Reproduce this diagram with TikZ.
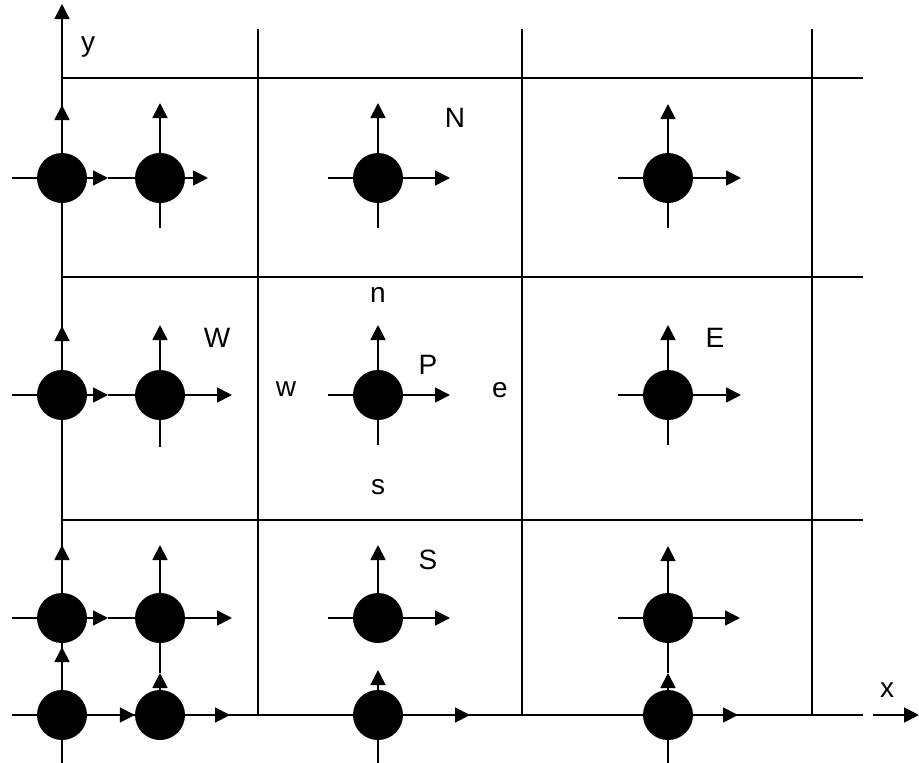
\documentclass[tikz,border=0pt]{standalone}
\usepackage{fontspec}
\setmainfont{Liberation Sans}
\usetikzlibrary{arrows.meta}

\tikzset{
  wire/.style={line width=1.8pt},
  flow/.style={wire,-{Triangle[length=15pt,width=15pt]}},
  cv/.style={circle,fill=black,minimum size=50pt,inner sep=0pt},
  lbl/.style={font=\fontsize{28}{32}\selectfont,inner sep=0pt}
}

\begin{document}
\begin{tikzpicture}[x=1pt,y=-1pt]
  \useasboundingbox (0,0) rectangle (919,763);
  % grid of control volumes
  \foreach \yy in {78,277,520} \draw[wire] (62,\yy) -- (863,\yy);
  \foreach \xx in {258,522,812} \draw[wire] (\xx,29) -- (\xx,715);
  % axes
  \coordinate (ybot) at (62,763);
  \coordinate (ytop) at (62,4);
  \draw[flow] (ybot) -- (ytop);
  \coordinate (xlft) at (12,715);
  \coordinate (xrgt) at (863,715);
  \draw[wire] (xlft) -- (xrgt);
  \coordinate (xa) at (873,715);
  \coordinate (xb) at (919,715);
  \draw[flow] (xa) -- (xb);
  \node[lbl] (ly) at (88,47) {y};
  \node[lbl] (lx) at (887,690) {x};

  % grid points
  \foreach \c/\xx in {A/62,B/160,C/378,D/668}
    \foreach \r/\yy in {1/178,2/395,3/618,4/715}
      \node[cv] (\c\r) at (\xx,\yy) {};

  % row 1
  \coordinate (A1w) at (12,178);
  \coordinate (A1n) at (62,105);
  \coordinate (A1e) at (108,178);
  \draw[wire] (A1w) -- (A1.west);
  \draw[flow] (A1.north) -- (A1n);
  \draw[flow] (A1.east) -- (A1e);
  \draw[wire] (A1e) -- (B1.west);
  \coordinate (B1s) at (160,228);
  \coordinate (B1n) at (160,103);
  \coordinate (B1e) at (208,178);
  \draw[wire] (B1s) -- (B1.south);
  \draw[flow] (B1.north) -- (B1n);
  \draw[flow] (B1.east) -- (B1e);
  \coordinate (C1w) at (328,178);
  \coordinate (C1e) at (450,178);
  \coordinate (C1s) at (378,228);
  \coordinate (C1n) at (378,103);
  \coordinate (D1w) at (618,178);
  \coordinate (D1e) at (741,178);
  \coordinate (D1s) at (668,228);
  \coordinate (D1n) at (668,104);

  % row 2
  \coordinate (A2w) at (12,395);
  \coordinate (A2n) at (62,326);
  \coordinate (A2e) at (108,395);
  \draw[wire] (A2w) -- (A2.west);
  \draw[flow] (A2.north) -- (A2n);
  \draw[flow] (A2.east) -- (A2e);
  \draw[wire] (A2e) -- (B2.west);
  \coordinate (B2s) at (160,447);
  \coordinate (B2n) at (160,325);
  \coordinate (B2e) at (232,395);
  \draw[wire] (B2s) -- (B2.south);
  \draw[flow] (B2.north) -- (B2n);
  \draw[flow] (B2.east) -- (B2e);
  \coordinate (C2w) at (328,395);
  \coordinate (C2e) at (450,395);
  \coordinate (C2s) at (378,445);
  \coordinate (C2n) at (378,325);
  \coordinate (D2w) at (618,395);
  \coordinate (D2e) at (741,395);
  \coordinate (D2s) at (668,445);
  \coordinate (D2n) at (668,325);

  % full crosses
  \foreach \nd in {C1,D1,C2,D2} {
    \draw[wire] (\nd w) -- (\nd.west);
    \draw[flow] (\nd.east) -- (\nd e);
    \draw[wire] (\nd s) -- (\nd.south);
    \draw[flow] (\nd.north) -- (\nd n);
  }

  % row 3
  \coordinate (A3w) at (12,618);
  \coordinate (A3n) at (62,545);
  \coordinate (A3e) at (108,618);
  \draw[wire] (A3w) -- (A3.west);
  \draw[flow] (A3.north) -- (A3n);
  \draw[flow] (A3.east) -- (A3e);
  \draw[wire] (A3e) -- (B3.west);
  \coordinate (B3n) at (160,545);
  \coordinate (B3e) at (232,618);
  \draw[flow] (B3.north) -- (B3n);
  \draw[flow] (B3.east) -- (B3e);
  \coordinate (C3w) at (328,618);
  \coordinate (C3e) at (450,618);
  \coordinate (C3n) at (378,545);
  \coordinate (D3w) at (618,618);
  \coordinate (D3e) at (740,618);
  \coordinate (D3n) at (668,546);
  \foreach \nd in {C3,D3} {
    \draw[wire] (\nd w) -- (\nd.west);
    \draw[flow] (\nd.east) -- (\nd e);
    \draw[flow] (\nd.north) -- (\nd n);
  }

  % row 4 (on the x axis)
  \draw[flow] (A4.east) -- (B4.west);
  \coordinate (A4n) at (62,647);
  \draw[flow] (A4.north) -- (A4n);
  \draw[wire] (A4n) -- (A3.south);
  \coordinate (B4e) at (230,715);
  \coordinate (B4n) at (160,673);
  \draw[flow] (B4.east) -- (B4e);
  \draw[wire] (B4e) -- (C4.west);
  \draw[flow] (B4.north) -- (B4n);
  \draw[wire] (B4n) -- (B3.south);
  \coordinate (C4e) at (470,715);
  \coordinate (C4n) at (378,670);
  \coordinate (C4s) at (378,763);
  \draw[flow] (C4.east) -- (C4e);
  \draw[wire] (C4e) -- (D4.west);
  \draw[flow] (C4.north) -- (C4n);
  \draw[wire] (C4s) -- (C4.south);
  \coordinate (D4e) at (738,715);
  \coordinate (D4n) at (668,673);
  \coordinate (D4s) at (668,763);
  \draw[flow] (D4.east) -- (D4e);
  \draw[flow] (D4.north) -- (D4n);
  \draw[wire] (D4n) -- (D3.south);
  \draw[wire] (D4s) -- (D4.south);

  % labels
  \node[lbl] (lN) at (455,118) {N};
  \node[lbl] (lW) at (217,338) {W};
  \node[lbl] (lw) at (286,389) {w};
  \node[lbl] (ln) at (378,295) {n};
  \node[lbl] (lP) at (428,365) {P};
  \node[lbl] (le) at (500,390) {e};
  \node[lbl] (lE) at (715,338) {E};
  \node[lbl] (ls) at (378,487) {s};
  \node[lbl] (lS) at (428,560) {S};
\end{tikzpicture}
\end{document}
